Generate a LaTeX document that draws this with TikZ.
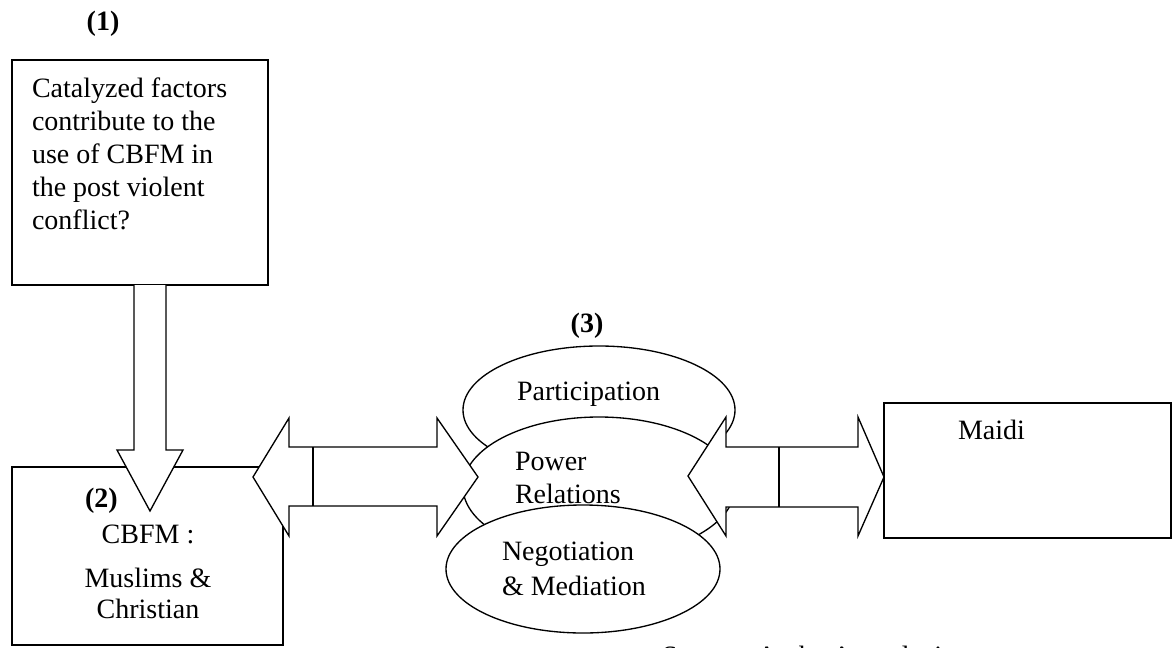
\documentclass[tikz,border=0pt]{standalone}
\usepackage{fontspec}
\setmainfont{Liberation Serif}
\usetikzlibrary{shapes.geometric}
\begin{document}
\begin{tikzpicture}[x=0.75pt,y=-0.75pt,
  every node/.style={inner sep=0pt,outer sep=0pt},
  lbl/.style={font=\fontsize{21}{24.75}\selectfont},
  num/.style={font=\fontsize{21}{24}\selectfont\bfseries},
  boxline/.style={draw=black,line width=1pt},
  blockarrow/.style={draw=black,fill=white,line width=1pt,line join=miter},
  oval/.style={ellipse,draw=black,fill=white,line width=1pt}]
\useasboundingbox (0,0) rectangle (1175,647);
% boxes
\draw[boxline] (12,60) rectangle (268,285);
\draw[boxline] (12,467) rectangle (283,645);
% ellipses
\node[oval,minimum width=204pt,minimum height=96pt] (part) at (599,410) {};
\node[oval,minimum width=204pt,minimum height=105pt] (power) at (599,487) {};
\node[oval,minimum width=205.5pt,minimum height=96pt] (nego) at (583,569) {};
% vertical block arrow
\draw[blockarrow] (134,285) -- (134,450) -- (117,450) -- (150,511) -- (183,450) -- (166,450) -- (166,285);
% left double block arrow
\draw[blockarrow] (253,477) -- (289,418) -- (289,447) -- (437,447) -- (437,418) -- (478,477)
  -- (437,536) -- (437,506) -- (289,506) -- (289,536) -- cycle;
\draw[boxline] (313,447) -- (313,506);
% right double block arrow
\draw[blockarrow] (688,476) -- (726,417) -- (726,447) -- (858,447) -- (858,417) -- (884,477)
  -- (858,536) -- (858,507) -- (726,507) -- (726,536) -- cycle;
\draw[boxline] (779,447) -- (779,507);
% box 3
\draw[boxline] (884,403) rectangle (1171,538);
% texts
\node[num,anchor=base] (n1) at (103,30) {(1)};
\node[lbl,anchor=north west,align=left] (t1) at (32,78)
  {Catalyzed factors\\contribute to the\\use of CBFM in\\the post violent\\conflict?};
\node[num,anchor=base west] (n2) at (85,507) {(2)};
\node[lbl,anchor=base] (t2a) at (148,543) {CBFM :};
\node[lbl,anchor=base] (t2b) at (148,587) {Muslims \&};
\node[lbl,anchor=base] (t2c) at (148,618) {Christian};
\node[num,anchor=base] (n3) at (587,332) {(3)};
\node[lbl,anchor=base west] (tp) at (517,400) {Participation};
\node[lbl,anchor=base west] (tpr1) at (515,470) {Power};
\node[lbl,anchor=base west] (tpr2) at (515,503) {Relations};
\node[lbl,anchor=base west] (tn1) at (502,560) {Negotiation};
\node[lbl,anchor=base west] (tn2) at (502,595) {\& Mediation};
\node[lbl,anchor=base west] (tm) at (958,439) {Maidi};
\begin{scope}
\clip (0,0) rectangle (1175,647);
\node[lbl,anchor=base west] (src) at (662,665.5) {Source: Author's analysis};
\end{scope}
\end{tikzpicture}
\end{document}
